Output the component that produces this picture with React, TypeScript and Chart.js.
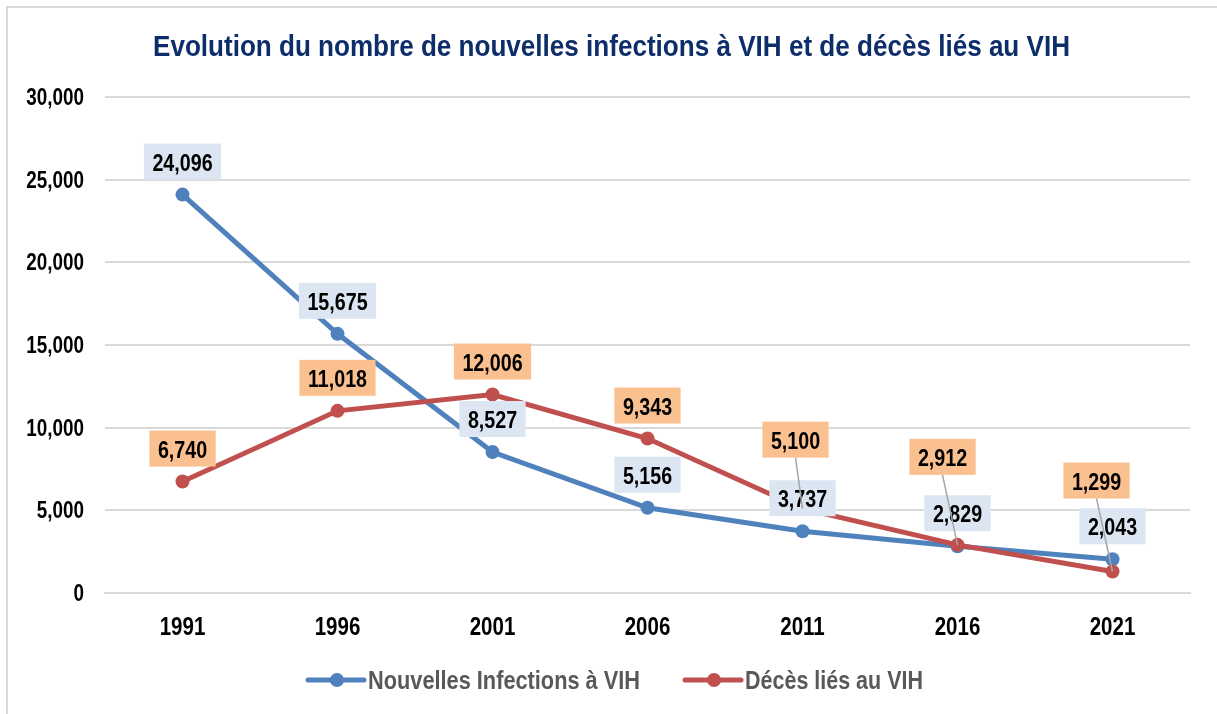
import React, { useEffect, useRef } from "react";
import { Chart, registerables } from "chart.js";

Chart.register(...registerables);

const title = "Evolution du nombre de nouvelles infections à VIH et de décès liés au VIH";
const years = ["1991", "1996", "2001", "2006", "2011", "2016", "2021"];
const infections = [24096, 15675, 8527, 5156, 3737, 2829, 2043];
const deaths = [6740, 11018, 12006, 9343, 5100, 2912, 1299];
const seriesNames = ["Nouvelles Infections à VIH", "Décès liés au VIH"];
const yTicks = [0, 5000, 10000, 15000, 20000, 25000, 30000];

const FONT = "'Liberation Sans', Arial, sans-serif";
const NARROW = 0.82;
const BLUE = "#4F81BD";
const RED = "#C0504D";
const LABEL_BG = ["#DCE6F2", "#FAC090"];
// label box offsets (px) relative to the point, per dataset
const labelOffsets = [
  [[0, -33], [0, -33], [0, -33], [0, -33], [0, -33], [0, -33], [0, -33]],
  [[0, -33], [0, -33], [0, -33], [0, -33], [-7, -69], [-15, -88], [-16, -91]],
];

const fmt = (v: number) => v.toLocaleString("en-US");

// draw horizontally condensed text (emulates a narrow typeface)
function drawText(
  ctx: CanvasRenderingContext2D,
  text: string,
  x: number,
  y: number,
  font: string,
  color: string,
  align: CanvasTextAlign,
  sx: number
) {
  ctx.save();
  ctx.font = font;
  ctx.fillStyle = color;
  ctx.textAlign = align;
  ctx.textBaseline = "alphabetic";
  ctx.translate(x, y);
  ctx.scale(sx, 1);
  ctx.fillText(text, 0, 0);
  ctx.restore();
}

function fitScale(ctx: CanvasRenderingContext2D, text: string, font: string, target: number) {
  ctx.save();
  ctx.font = font;
  const w = ctx.measureText(text).width;
  ctx.restore();
  return target / w;
}

const decorPlugin = {
  id: "decor",
  beforeDraw(chart: any) {
    const ctx = chart.ctx;
    ctx.save();
    ctx.fillStyle = "#ffffff";
    ctx.fillRect(0, 0, chart.width, chart.height);
    ctx.strokeStyle = "#D9D9D9";
    ctx.lineWidth = 2;
    ctx.beginPath();
    ctx.moveTo(7, chart.height);
    ctx.lineTo(7, 7);
    ctx.lineTo(chart.width, 7);
    ctx.stroke();
    ctx.restore();
    // title
    const tf = `bold 30px ${FONT}`;
    drawText(ctx, title, 611.5, 56, tf, "#0E2D6B", "center", fitScale(ctx, title, tf, 917));
    // tick labels
    const ys = chart.scales.y;
    yTicks.forEach((v) => {
      drawText(ctx, fmt(v), 84, ys.getPixelForValue(v) + 8, `bold 23px ${FONT}`, "#000000", "right", NARROW);
    });
    const xs = chart.scales.x;
    years.forEach((lab, i) => {
      drawText(ctx, lab, xs.getPixelForValue(i), 635, `bold 25px ${FONT}`, "#000000", "center", NARROW);
    });
  },
  afterDatasetsDraw(chart: any) {
    const ctx = chart.ctx;
    const lf = `bold 24px ${FONT}`;
    [0, 1].forEach((di) => {
      const meta = chart.getDatasetMeta(di);
      const data = chart.data.datasets[di].data as number[];
      meta.data.forEach((pt: any, i: number) => {
        const [dx, dy] = labelOffsets[di][i];
        const cx = pt.x + dx;
        const cy = pt.y + dy;
        const text = fmt(data[i]);
        ctx.save();
        ctx.font = lf;
        const w = ctx.measureText(text).width * NARROW + 17;
        const h = 36;
        ctx.fillStyle = LABEL_BG[di];
        ctx.fillRect(cx - w / 2, cy - h / 2, w, h);
        ctx.restore();
        drawText(ctx, text, cx, cy + 9, lf, "#000000", "center", NARROW);
        if (dx !== 0 || dy < -40) {
          ctx.save();
          ctx.strokeStyle = "#A6A6A6";
          ctx.lineWidth = 1.5;
          ctx.beginPath();
          ctx.moveTo(cx, cy + h / 2);
          ctx.lineTo(pt.x, pt.y);
          ctx.stroke();
          ctx.restore();
        }
      });
    });
  },
  afterDraw(chart: any) {
    const ctx = chart.ctx;
    const items = [
      { x: 308, color: BLUE, label: seriesNames[0], tw: 272 },
      { x: 685, color: RED, label: seriesNames[1], tw: 178 },
    ];
    const y = 680;
    const font = `bold 26px ${FONT}`;
    items.forEach((it) => {
      ctx.save();
      ctx.strokeStyle = it.color;
      ctx.lineWidth = 5;
      ctx.lineCap = "round";
      ctx.beginPath();
      ctx.moveTo(it.x, y);
      ctx.lineTo(it.x + 56, y);
      ctx.stroke();
      ctx.fillStyle = it.color;
      ctx.beginPath();
      ctx.arc(it.x + 29, y, 7, 0, Math.PI * 2);
      ctx.fill();
      ctx.restore();
      drawText(ctx, it.label, it.x + 60, y + 9, font, "#595959", "left", fitScale(ctx, it.label, font, it.tw));
    });
  },
};

export default function App() {
  const ref = useRef<HTMLCanvasElement>(null);
  useEffect(() => {
    document.body.style.margin = "0";
    const chart = new Chart(ref.current!, {
      type: "line",
      data: {
        labels: years,
        datasets: [
          {
            label: seriesNames[0],
            data: infections,
            borderColor: BLUE,
            backgroundColor: BLUE,
            borderWidth: 5,
            pointRadius: 7,
            pointBorderWidth: 0,
            pointBackgroundColor: BLUE,
            order: 1,
          },
          {
            label: seriesNames[1],
            data: deaths,
            borderColor: RED,
            backgroundColor: RED,
            borderWidth: 5,
            pointRadius: 7,
            pointBorderWidth: 0,
            pointBackgroundColor: RED,
            order: 0,
          },
        ],
      },
      options: {
        responsive: false,
        animation: false,
        layout: { padding: { top: 97, right: 27, left: 0, bottom: 0 } },
        plugins: {
          legend: { display: false },
          title: { display: false },
          tooltip: { enabled: false },
        },
        scales: {
          x: {
            offset: true,
            grid: { display: false, drawTicks: false },
            border: { display: true, color: "#D9D9D9", width: 2 },
            ticks: { display: false },
            afterFit: (s: any) => {
              s.height = 121;
            },
          },
          y: {
            min: 0,
            max: 30000,
            afterBuildTicks: (s: any) => {
              s.ticks = yTicks.map((v) => ({ value: v }));
            },
            grid: { color: "#D9D9D9", lineWidth: 2, drawTicks: false },
            border: { display: false },
            ticks: { display: false },
            afterFit: (s: any) => {
              s.width = 105;
            },
          },
        },
      },
      plugins: [decorPlugin],
    } as any);
    return () => chart.destroy();
  }, []);
  return (
    <div style={{ width: 1217, height: 714, position: "relative" }}>
      <canvas ref={ref} width={1217} height={714} />
    </div>
  );
}
